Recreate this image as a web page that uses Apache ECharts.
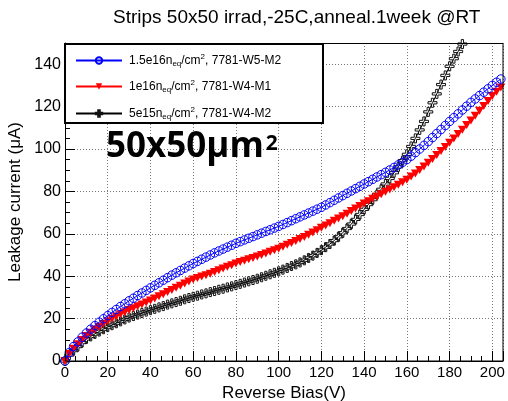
<!DOCTYPE html>
<html>
<head>
<meta charset="utf-8">
<script src="https://cdn.jsdelivr.net/npm/echarts@6/dist/echarts.min.js"></script>
<style>html,body{margin:0;padding:0;background:#fff}#c{width:508px;height:401px}</style>
</head>
<body>
<div id="c"></div>
<script>
// ---- data ----
const titleText = 'Strips 50x50 irrad,-25C,anneal.1week @RT';
const xTitle = 'Reverse Bias(V)';
const yTitle = 'Leakage current (\u03bcA)';
const seriesNames = ['1.5e16neq/cm2, 7781-W5-M2', '1e16neq/cm2, 7781-W4-M1', '5e15neq/cm2, 7781-W4-M2'];
const legendParts = [
  ['1.5e16n', 'eq', '/cm', '2', ', 7781-W5-M2'],
  ['1e16n', 'eq', '/cm', '2', ', 7781-W4-M1'],
  ['5e15n', 'eq', '/cm', '2', ', 7781-W4-M2']
];
const xTicks = [0, 20, 40, 60, 80, 100, 120, 140, 160, 180, 200];
const yTicks = [0, 20, 40, 60, 80, 100, 120, 140];

const biasV = [0,2,4,6,8,10,12,14,16,18,20,22,24,26,28,30,32,34,36,38,40,42,44,46,48,50,52,54,56,58,60,62,64,66,68,70,72,74,76,78,80,82,84,86,88,90,92,94,96,98,100,102,104,106,108,110,112,114,116,118,120,122,124,126,128,130,132,134,136,138,140,142,144,146,148,150,152,154,156,158,160,162,164,166,168,170,172,174,176,178,180,182,184,186,188,190,192,194,196,198,200,202,204];

const currentW5M2 = [0,4.0,6.8,9.0,11.2,13.2,15.0,16.7,18.3,19.9,21.4,22.9,24.3,25.7,27.0,28.4,29.6,30.9,32.1,33.3,34.5,35.7,36.9,38.1,39.3,40.5,41.6,42.7,43.8,44.9,46.0,47.0,48.0,49.0,50.0,51.0,51.9,52.8,53.7,54.6,55.5,56.3,57.1,57.9,58.7,59.5,60.3,61.1,61.9,62.7,63.5,64.4,65.3,66.2,67.1,68.0,68.9,69.8,70.7,71.6,72.5,73.6,74.7,75.8,76.9,78.0,79.1,80.2,81.3,82.4,83.5,84.6,85.7,86.8,87.9,89.0,90.1,91.3,92.5,93.7,95.0,96.6,98.3,100.0,101.7,103.5,105.4,107.3,109.2,111.1,113.0,114.8,116.6,118.4,120.2,122.0,123.6,125.2,126.8,128.4,130.0,131.5,133.0];

const currentW4M1 = [0,3.3,5.8,7.9,9.9,11.8,13.3,14.8,16.2,17.5,18.8,19.9,21.0,22.0,23.0,24.0,24.9,25.8,26.7,27.6,28.5,29.5,30.5,31.5,32.5,33.5,34.5,35.5,36.5,37.5,38.4,39.1,39.8,40.5,41.2,42.0,42.8,43.6,44.4,45.2,46.0,46.7,47.3,48.0,48.6,49.3,50.0,50.7,51.5,52.2,53.0,53.9,54.8,55.7,56.6,57.5,58.5,59.6,60.6,61.7,62.8,63.9,65.0,66.1,67.2,68.3,69.5,70.7,71.9,73.1,74.3,75.4,76.5,77.6,78.7,79.8,80.9,82.0,83.1,84.3,85.5,87.0,88.5,90.1,91.8,93.5,95.3,97.2,99.1,101.0,103.0,105.0,107.1,109.1,111.3,113.5,115.7,118.0,120.3,122.6,125.0,127.0,129.0];

const currentW4M2 = [0,2.8,4.9,6.8,8.7,10.4,11.6,12.8,13.9,15.0,16.0,16.9,17.8,18.7,19.6,20.5,21.2,21.9,22.6,23.3,24.0,24.6,25.3,25.9,26.6,27.2,27.8,28.4,29.1,29.7,30.3,30.8,31.4,31.9,32.5,33.0,33.6,34.1,34.7,35.2,35.8,36.4,37.0,37.6,38.2,38.8,39.5,40.2,40.9,41.6,42.3,43.1,43.9,44.8,45.6,46.5,47.5,48.6,49.7,51.0,52.3,53.7,55.2,56.8,58.6,60.5,62.5,64.6,66.8,69.1,71.5,73.8,76.1,78.5,81.0,83.5,86.1,88.8,91.6,94.5,97.5,101.2,105.0,109.0,113.0,117.5,121.8,126.0,130.4,134.7,139.0,142.6,146.0,149.5];

const bigLabel = ['50x50\u03bcm', '2'];

// ---- build ----
function pairs(xs, ys) { return ys.map((y, i) => [xs[i], y]); }
const FONT = 'Liberation Sans, Arial, Helvetica, sans-serif';
const crossPath = 'path://M3,0L5,0L5,3L8,3L8,5L5,5L5,8L3,8L3,5L0,5L0,3L3,3Z';

const chart = echarts.init(document.getElementById('c'), null, {renderer: 'canvas'});

function legendFor(i, top) {
  return {
    data: [seriesNames[i]],
    left: 75, top: top, padding: 0,
    itemWidth: 46, itemHeight: 8,
    itemGap: 9,
    inactiveColor: '#000',
    selectedMode: false,
    formatter: function (name) {
      const p = legendParts[seriesNames.indexOf(name)];
      return p[0] + '{sub|' + p[1] + '}' + p[2] + '{sup|' + p[3] + '}' + p[4];
    },
    textStyle: {
      fontSize: 12, color: '#000', fontFamily: FONT, padding: [0, 0, 0, 2],
      rich: {
        sub: {fontSize: 8, fontFamily: FONT, color: '#000', padding: [7, 0, 0, 0]},
        sup: {fontSize: 8, fontFamily: FONT, color: '#000', padding: [0, 0, 7, 0]}
      }
    }
  };
}

const axisCommon = {
  type: 'value',
  axisLine: {show: true, lineStyle: {color: '#000', width: 1}},
  axisTick: {show: true, inside: true, length: 10, lineStyle: {color: '#000', width: 1}},
  minorTick: {show: true, splitNumber: 4, length: 5, lineStyle: {color: '#000', width: 1}},
  splitLine: {show: true, lineStyle: {color: '#777', width: 1, type: [1, 2]}},
  minorSplitLine: {show: false}
};

chart.setOption({
  animation: false,
  backgroundColor: '#fff',
  title: {
    text: titleText, left: 113, top: 8, padding: 0,
    textStyle: {fontSize: 19, fontWeight: 'normal', color: '#000', fontFamily: FONT}
  },
  grid: {left: 65, right: 5, top: 43, bottom: 40, containLabel: false, outerBoundsMode: 'none'},
  xAxis: Object.assign({}, axisCommon, {
    min: 0, max: 205, interval: 20,
    name: xTitle, nameLocation: 'middle', nameGap: 20,
    nameTextStyle: {fontSize: 17, color: '#000', fontFamily: FONT},
    axisLabel: {
      show: true, fontSize: 15, color: '#000', fontFamily: FONT, margin: 4,
      showMaxLabel: false,
      formatter: v => (xTicks.indexOf(v) >= 0 ? String(v) : '')
    }
  }),
  yAxis: Object.assign({}, axisCommon, {
    min: 0, max: 150, interval: 20,
    name: yTitle, nameLocation: 'middle', nameGap: 28, nameRotate: 90,
    nameTextStyle: {fontSize: 17, color: '#000', fontFamily: FONT},
    axisLabel: {
      show: true, fontSize: 16, color: '#000', fontFamily: FONT, margin: 4,
      showMaxLabel: false,
      formatter: v => (yTicks.indexOf(v) >= 0 ? String(v) : '')
    }
  }),
  legend: [legendFor(0, 53), legendFor(1, 79), legendFor(2, 106)],
  series: [
    {
      name: seriesNames[0], type: 'line', data: pairs(biasV, currentW5M2),
      symbol: 'circle', symbolSize: 8.5, z: 4,
      color: '#0000ff',
      lineStyle: {color: '#0000ff', width: 1},
      itemStyle: {color: 'rgba(0,0,0,0)', borderColor: '#0000ff', borderWidth: 1}
    },
    {
      name: seriesNames[1], type: 'line', data: pairs(biasV, currentW4M1),
      symbol: 'triangle', symbolRotate: 180, symbolSize: [9, 8], z: 3,
      color: '#ff0000',
      lineStyle: {color: '#ff0000', width: 1},
      itemStyle: {color: '#ff0000', borderWidth: 0}
    },
    {
      name: seriesNames[2], type: 'line', data: pairs(biasV, currentW4M2),
      symbol: crossPath, symbolSize: 9, z: 2,
      color: '#000000',
      lineStyle: {color: '#000', width: 1},
      itemStyle: {color: 'rgba(0,0,0,0)', borderColor: '#111', borderWidth: 1}
    }
  ],
  graphic: [
    {
      type: 'rect', z: 3, silent: true,
      shape: {x: 65, y: 44, width: 258, height: 79},
      style: {fill: '#fff', stroke: '#000', lineWidth: 2}
    },
    {
      type: 'rect', z: 10, silent: true,
      shape: {x: 65.5, y: 43.5, width: 437.5, height: 317.5},
      style: {fill: 'none', stroke: '#000', lineWidth: 1}
    },
    {
      type: 'text', z: 6, silent: true, left: 106, top: 130,
      style: {
        text: '{a|' + bigLabel[0] + '}{b|' + bigLabel[1] + '}',
        rich: {
          a: {fontSize: 35, fontWeight: 'bold', fontFamily: 'Open Sans', fill: '#000'},
          b: {fontSize: 21, fontWeight: 'bold', fontFamily: 'Open Sans', fill: '#000', padding: [0, 0, 7, 2]}
        }
      }
    }
  ]
});
</script>
</body>
</html>
